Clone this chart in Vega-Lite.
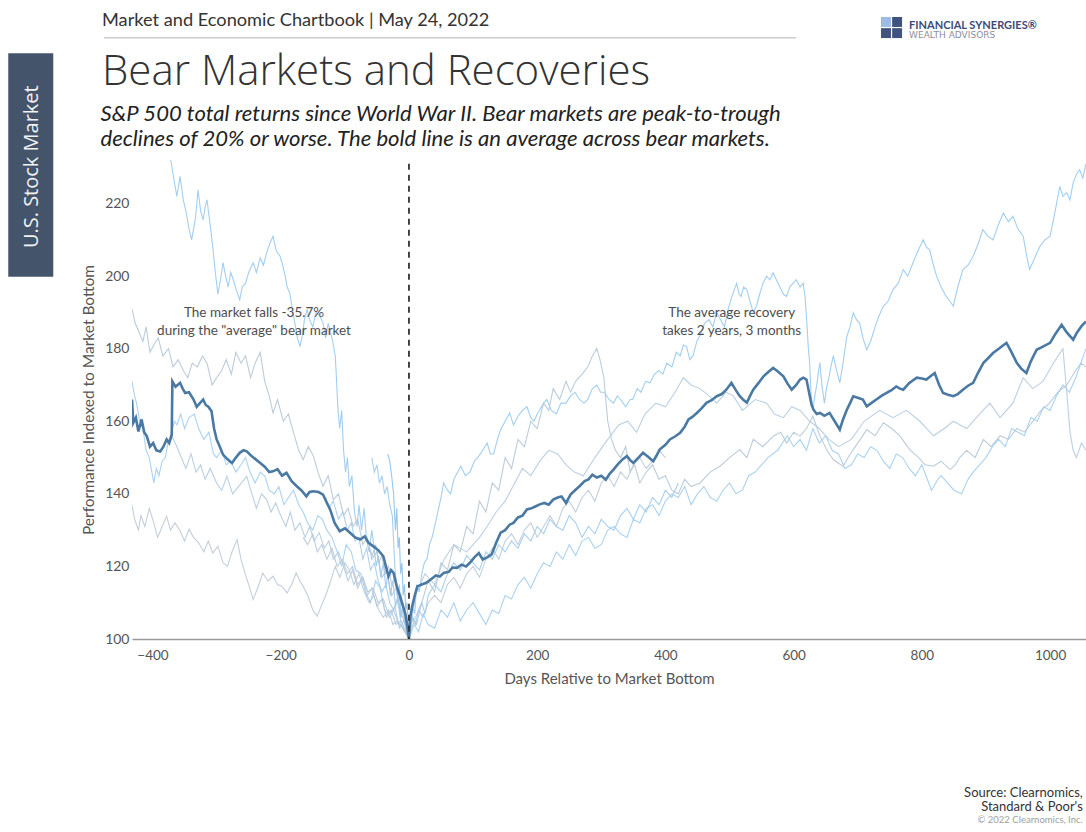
{
"$schema":"https://vega.github.io/schema/vega-lite/v6.json",
"width":954,"height":479,
"autosize":{"type":"none"},
"padding":{"left":132,"top":160,"right":0,"bottom":193},
"background":"white",
"config":{"view":{"stroke":null},"font":"Lato"},
"data":{"values":[{}]},
"datasets":{
"bear":[
{"s":"a","d":-372,"v":232.5},{"s":"a","d":-366,"v":226},{"s":"a","d":-362,"v":222},{"s":"a","d":-357,"v":227.5},{"s":"a","d":-352,"v":221},{"s":"a","d":-348,"v":218},{"s":"a","d":-343,"v":213},{"s":"a","d":-339,"v":210},{"s":"a","d":-333,"v":216},{"s":"a","d":-329,"v":223.8},{"s":"a","d":-325,"v":218},{"s":"a","d":-321,"v":215.5},{"s":"a","d":-318,"v":219},{"s":"a","d":-315,"v":221},{"s":"a","d":-310,"v":214},{"s":"a","d":-306,"v":208},{"s":"a","d":-302,"v":201},{"s":"a","d":-298,"v":195},{"s":"a","d":-294,"v":199},{"s":"a","d":-290,"v":203.7},{"s":"a","d":-286,"v":200},{"s":"a","d":-282,"v":197},{"s":"a","d":-278,"v":201},{"s":"a","d":-274,"v":199},{"s":"a","d":-269,"v":196},{"s":"a","d":-264,"v":193.5},{"s":"a","d":-260,"v":197},{"s":"a","d":-255,"v":198},{"s":"a","d":-250,"v":201},{"s":"a","d":-243,"v":203.7},{"s":"a","d":-238,"v":201},{"s":"a","d":-232,"v":205},{"s":"a","d":-227,"v":203},{"s":"a","d":-222,"v":206.4},{"s":"a","d":-217,"v":209},{"s":"a","d":-212,"v":211},{"s":"a","d":-207,"v":207},{"s":"a","d":-201,"v":205.5},{"s":"a","d":-197,"v":203},{"s":"a","d":-193,"v":200},{"s":"a","d":-190,"v":197},{"s":"a","d":-186,"v":195.4},{"s":"a","d":-182,"v":191},{"s":"a","d":-178,"v":187},{"s":"a","d":-174,"v":183},{"s":"a","d":-170,"v":180.6},{"s":"a","d":-166,"v":184},{"s":"a","d":-163,"v":188},{"s":"a","d":-159,"v":190.8},{"s":"a","d":-155,"v":188},{"s":"a","d":-150,"v":186},{"s":"a","d":-145,"v":190},{"s":"a","d":-139,"v":189},{"s":"a","d":-134,"v":187},{"s":"a","d":-130,"v":183},{"s":"a","d":-126,"v":187},{"s":"a","d":-123,"v":185},{"s":"a","d":-119,"v":182},{"s":"a","d":-115,"v":178},{"s":"a","d":-113,"v":171.5},{"s":"a","d":-111,"v":164},{"s":"a","d":-108,"v":158},{"s":"a","d":-105,"v":163},{"s":"a","d":-102,"v":152},{"s":"a","d":-99,"v":146},{"s":"a","d":-96,"v":150},{"s":"a","d":-93,"v":142},{"s":"a","d":-89,"v":145},{"s":"a","d":-85,"v":135},{"s":"a","d":-81,"v":131},{"s":"a","d":-78,"v":137},{"s":"a","d":-74,"v":130},{"s":"a","d":-70,"v":136},{"s":"a","d":-66,"v":127},{"s":"a","d":-62,"v":124},{"s":"a","d":-58,"v":130},{"s":"a","d":-55,"v":126},{"s":"a","d":-51,"v":120},{"s":"a","d":-48,"v":123},{"s":"a","d":-44,"v":117},{"s":"a","d":-40,"v":121},{"s":"a","d":-36,"v":114},{"s":"a","d":-33,"v":118},{"s":"a","d":-29,"v":112},{"s":"a","d":-25,"v":116},{"s":"a","d":-21,"v":109},{"s":"a","d":-17,"v":112},{"s":"a","d":-13,"v":106},{"s":"a","d":-9,"v":108},{"s":"a","d":-5,"v":104},{"s":"a","d":-2,"v":103},{"s":"a","d":0,"v":100},
{"s":"a","d":3,"v":106},{"s":"a","d":6,"v":109},{"s":"a","d":9,"v":107},{"s":"a","d":12,"v":115},{"s":"a","d":16,"v":113},{"s":"a","d":20,"v":118},{"s":"a","d":24,"v":121},{"s":"a","d":28,"v":122},{"s":"a","d":32,"v":126},{"s":"a","d":36,"v":128},{"s":"a","d":40,"v":131},{"s":"a","d":45,"v":135},{"s":"a","d":50,"v":139},{"s":"a","d":54,"v":143},{"s":"a","d":60,"v":141},{"s":"a","d":65,"v":140},{"s":"a","d":70,"v":144},{"s":"a","d":76,"v":146},{"s":"a","d":81,"v":147.6},{"s":"a","d":88,"v":145},{"s":"a","d":95,"v":146},{"s":"a","d":102,"v":149},{"s":"a","d":109,"v":150.4},{"s":"a","d":115,"v":152},{"s":"a","d":122,"v":154},{"s":"a","d":127,"v":151},{"s":"a","d":132,"v":151},{"s":"a","d":138,"v":155},{"s":"a","d":143,"v":157.7},{"s":"a","d":150,"v":160},{"s":"a","d":157,"v":162.3},{"s":"a","d":163,"v":159},{"s":"a","d":170,"v":161.4},{"s":"a","d":177,"v":163},{"s":"a","d":184,"v":164},{"s":"a","d":190,"v":161},{"s":"a","d":195,"v":160},{"s":"a","d":200,"v":162},{"s":"a","d":204,"v":163.2},{"s":"a","d":210,"v":165},{"s":"a","d":215,"v":166},{"s":"a","d":222,"v":163},{"s":"a","d":230,"v":162},{"s":"a","d":237,"v":165},{"s":"a","d":245,"v":165},{"s":"a","d":252,"v":167},{"s":"a","d":259,"v":168},{"s":"a","d":266,"v":166},{"s":"a","d":273,"v":165},{"s":"a","d":279,"v":166},{"s":"a","d":286,"v":169},{"s":"a","d":293,"v":170},{"s":"a","d":299,"v":168},{"s":"a","d":305,"v":168},{"s":"a","d":312,"v":166},{"s":"a","d":319,"v":165},{"s":"a","d":325,"v":167},{"s":"a","d":330,"v":166},{"s":"a","d":338,"v":164},{"s":"a","d":345,"v":166},{"s":"a","d":349,"v":166},{"s":"a","d":356,"v":169},{"s":"a","d":362,"v":168},{"s":"a","d":369,"v":171},{"s":"a","d":376,"v":170.6},{"s":"a","d":383,"v":173},{"s":"a","d":390,"v":174},{"s":"a","d":396,"v":173},{"s":"a","d":402,"v":176},{"s":"a","d":410,"v":175},{"s":"a","d":417,"v":179},{"s":"a","d":423,"v":178},{"s":"a","d":428,"v":181},{"s":"a","d":433,"v":180.6},{"s":"a","d":438,"v":177},{"s":"a","d":443,"v":178},{"s":"a","d":449,"v":182},{"s":"a","d":455,"v":184},{"s":"a","d":461,"v":187},{"s":"a","d":468,"v":188},{"s":"a","d":474,"v":186},{"s":"a","d":480,"v":190},{"s":"a","d":486,"v":188},{"s":"a","d":492,"v":186},{"s":"a","d":498,"v":191},{"s":"a","d":503,"v":194},{"s":"a","d":507,"v":196},{"s":"a","d":511,"v":198},{"s":"a","d":515,"v":195},{"s":"a","d":518,"v":194.4},{"s":"a","d":522,"v":197},{"s":"a","d":527,"v":196.3},{"s":"a","d":532,"v":193},{"s":"a","d":537,"v":190},{"s":"a","d":542,"v":191.7},{"s":"a","d":547,"v":195},{"s":"a","d":552,"v":198},{"s":"a","d":558,"v":200},{"s":"a","d":563,"v":199},{"s":"a","d":568,"v":200.9},{"s":"a","d":573,"v":199},{"s":"a","d":578,"v":197.2},{"s":"a","d":584,"v":195},{"s":"a","d":589,"v":194.4},{"s":"a","d":594,"v":197},{"s":"a","d":599,"v":198},{"s":"a","d":604,"v":199},{"s":"a","d":610,"v":197},{"s":"a","d":615,"v":198},{"s":"a","d":618,"v":194},{"s":"a","d":621,"v":186},{"s":"a","d":623,"v":180},{"s":"a","d":625,"v":176},{"s":"a","d":627,"v":168},{"s":"a","d":630,"v":163},{"s":"a","d":633,"v":167},{"s":"a","d":636,"v":170},{"s":"a","d":639,"v":174},{"s":"a","d":641,"v":176.2},{"s":"a","d":644,"v":170},{"s":"a","d":648,"v":165},{"s":"a","d":651,"v":169},{"s":"a","d":655,"v":172},{"s":"a","d":658,"v":175},{"s":"a","d":662,"v":178},{"s":"a","d":667,"v":174},{"s":"a","d":672,"v":170.6},{"s":"a","d":677,"v":176},{"s":"a","d":683,"v":183.4},{"s":"a","d":688,"v":186},{"s":"a","d":693,"v":189.9},{"s":"a","d":698,"v":188},{"s":"a","d":703,"v":187},{"s":"a","d":708,"v":183},{"s":"a","d":714,"v":179.7},{"s":"a","d":720,"v":182},{"s":"a","d":727,"v":186},{"s":"a","d":733,"v":189},{"s":"a","d":740,"v":191.7},{"s":"a","d":747,"v":193},{"s":"a","d":755,"v":196.3},{"s":"a","d":763,"v":198},{"s":"a","d":771,"v":201.8},{"s":"a","d":778,"v":200},{"s":"a","d":786,"v":203.6},{"s":"a","d":794,"v":207},{"s":"a","d":802,"v":210},{"s":"a","d":807,"v":208},{"s":"a","d":812,"v":207.3},{"s":"a","d":818,"v":203},{"s":"a","d":823,"v":200},{"s":"a","d":830,"v":197},{"s":"a","d":838,"v":194.4},{"s":"a","d":844,"v":193},{"s":"a","d":849,"v":191.7},{"s":"a","d":856,"v":197},{"s":"a","d":864,"v":201.8},{"s":"a","d":872,"v":203},{"s":"a","d":880,"v":205.5},{"s":"a","d":888,"v":209},{"s":"a","d":895,"v":212.8},{"s":"a","d":903,"v":211},{"s":"a","d":911,"v":210},{"s":"a","d":919,"v":214},{"s":"a","d":927,"v":217.4},{"s":"a","d":935,"v":215},{"s":"a","d":942,"v":216.5},{"s":"a","d":950,"v":213},{"s":"a","d":958,"v":211},{"s":"a","d":963,"v":206},{"s":"a","d":968,"v":201.8},{"s":"a","d":976,"v":205},{"s":"a","d":984,"v":208.2},{"s":"a","d":992,"v":210},{"s":"a","d":1000,"v":211},{"s":"a","d":1008,"v":218},{"s":"a","d":1015,"v":224.7},{"s":"a","d":1020,"v":222},{"s":"a","d":1026,"v":223},{"s":"a","d":1031,"v":221},{"s":"a","d":1036,"v":225.7},{"s":"a","d":1041,"v":228},{"s":"a","d":1046,"v":229.3},{"s":"a","d":1051,"v":227},{"s":"a","d":1056,"v":231},
{"s":"b","d":-432,"v":191},{"s":"b","d":-427,"v":187},{"s":"b","d":-422,"v":185},{"s":"b","d":-415,"v":182},{"s":"b","d":-410,"v":186},{"s":"b","d":-404,"v":179},{"s":"b","d":-398,"v":181},{"s":"b","d":-391,"v":183},{"s":"b","d":-384,"v":178},{"s":"b","d":-375,"v":180},{"s":"b","d":-368,"v":175},{"s":"b","d":-360,"v":177},{"s":"b","d":-352,"v":174},{"s":"b","d":-345,"v":172},{"s":"b","d":-338,"v":176},{"s":"b","d":-330,"v":175},{"s":"b","d":-322,"v":178},{"s":"b","d":-315,"v":176},{"s":"b","d":-307,"v":170},{"s":"b","d":-300,"v":172},{"s":"b","d":-292,"v":174},{"s":"b","d":-285,"v":177},{"s":"b","d":-277,"v":173},{"s":"b","d":-270,"v":179},{"s":"b","d":-262,"v":176},{"s":"b","d":-255,"v":178},{"s":"b","d":-247,"v":172},{"s":"b","d":-240,"v":176},{"s":"b","d":-232,"v":179},{"s":"b","d":-225,"v":171},{"s":"b","d":-218,"v":167},{"s":"b","d":-212,"v":162.3},{"s":"b","d":-205,"v":166},{"s":"b","d":-196,"v":160},{"s":"b","d":-188,"v":162},{"s":"b","d":-180,"v":156.8},{"s":"b","d":-172,"v":152},{"s":"b","d":-165,"v":149.4},{"s":"b","d":-157,"v":153},{"s":"b","d":-149,"v":150.4},{"s":"b","d":-142,"v":146},{"s":"b","d":-134,"v":142.1},{"s":"b","d":-126,"v":145},{"s":"b","d":-118,"v":138.4},{"s":"b","d":-110,"v":140},{"s":"b","d":-102,"v":134},{"s":"b","d":-95,"v":136},{"s":"b","d":-87,"v":131},{"s":"b","d":-80,"v":133},{"s":"b","d":-72,"v":126},{"s":"b","d":-65,"v":128},{"s":"b","d":-58,"v":122},{"s":"b","d":-50,"v":124},{"s":"b","d":-42,"v":117},{"s":"b","d":-35,"v":119},{"s":"b","d":-27,"v":112},{"s":"b","d":-20,"v":114},{"s":"b","d":-12,"v":107},{"s":"b","d":-6,"v":104},{"s":"b","d":0,"v":100},
{"s":"b","d":6,"v":106},{"s":"b","d":12,"v":104},{"s":"b","d":20,"v":110},{"s":"b","d":30,"v":116},{"s":"b","d":40,"v":113},{"s":"b","d":50,"v":121},{"s":"b","d":60,"v":119},{"s":"b","d":70,"v":126},{"s":"b","d":80,"v":124},{"s":"b","d":90,"v":131},{"s":"b","d":100,"v":129},{"s":"b","d":110,"v":138},{"s":"b","d":120,"v":135},{"s":"b","d":130,"v":143},{"s":"b","d":140,"v":141},{"s":"b","d":150,"v":150},{"s":"b","d":160,"v":147},{"s":"b","d":170,"v":155},{"s":"b","d":180,"v":153},{"s":"b","d":190,"v":160},{"s":"b","d":200,"v":158},{"s":"b","d":210,"v":165},{"s":"b","d":218,"v":163},{"s":"b","d":225,"v":169},{"s":"b","d":235,"v":166},{"s":"b","d":245,"v":171},{"s":"b","d":252,"v":168},{"s":"b","d":260,"v":171},{"s":"b","d":270,"v":173},{"s":"b","d":279,"v":175},{"s":"b","d":286,"v":178},{"s":"b","d":293,"v":180},{"s":"b","d":298,"v":177},{"s":"b","d":304,"v":172},{"s":"b","d":310,"v":160},{"s":"b","d":316,"v":155},{"s":"b","d":322,"v":152},{"s":"b","d":330,"v":150},{"s":"b","d":338,"v":153},{"s":"b","d":345,"v":146},{"s":"b","d":352,"v":148},{"s":"b","d":360,"v":143},{"s":"b","d":370,"v":146},{"s":"b","d":380,"v":148},{"s":"b","d":390,"v":144},{"s":"b","d":400,"v":145},{"s":"b","d":410,"v":141},{"s":"b","d":420,"v":140},{"s":"b","d":430,"v":144},{"s":"b","d":440,"v":142},{"s":"b","d":454,"v":143},{"s":"b","d":470,"v":146},{"s":"b","d":485,"v":147.6},{"s":"b","d":500,"v":150},{"s":"b","d":516,"v":152.2},{"s":"b","d":527,"v":150},{"s":"b","d":537,"v":155},{"s":"b","d":552,"v":153},{"s":"b","d":568,"v":155.9},{"s":"b","d":580,"v":157},{"s":"b","d":589,"v":154},{"s":"b","d":600,"v":157},{"s":"b","d":610,"v":155.9},{"s":"b","d":620,"v":158},{"s":"b","d":630,"v":161.4},{"s":"b","d":641,"v":155.9},{"s":"b","d":652,"v":152},{"s":"b","d":662,"v":149.4},{"s":"b","d":677,"v":147.6},{"s":"b","d":685,"v":150},{"s":"b","d":693,"v":152.2},{"s":"b","d":704,"v":155},{"s":"b","d":714,"v":157.7},{"s":"b","d":727,"v":156},{"s":"b","d":740,"v":159.6},{"s":"b","d":753,"v":158},{"s":"b","d":766,"v":155.9},{"s":"b","d":781,"v":152.2},{"s":"b","d":795,"v":150},{"s":"b","d":805,"v":148},{"s":"b","d":818,"v":147.6},{"s":"b","d":830,"v":149},{"s":"b","d":844,"v":146.7},{"s":"b","d":852,"v":148},{"s":"b","d":859,"v":150},{"s":"b","d":870,"v":152},{"s":"b","d":883,"v":150},{"s":"b","d":896,"v":155},{"s":"b","d":908,"v":153},{"s":"b","d":922,"v":156},{"s":"b","d":935,"v":155},{"s":"b","d":948,"v":158},{"s":"b","d":960,"v":157},{"s":"b","d":973,"v":160},{"s":"b","d":986,"v":163},{"s":"b","d":999,"v":165},{"s":"b","d":1012,"v":168},{"s":"b","d":1026,"v":170},{"s":"b","d":1040,"v":174},{"s":"b","d":1048,"v":176},{"s":"b","d":1056,"v":175},
{"s":"c","d":-432,"v":171},{"s":"c","d":-428,"v":167},{"s":"c","d":-425,"v":165},{"s":"c","d":-420,"v":160},{"s":"c","d":-415,"v":158},{"s":"c","d":-410,"v":152},{"s":"c","d":-405,"v":150},{"s":"c","d":-398,"v":143},{"s":"c","d":-394,"v":147},{"s":"c","d":-390,"v":145},{"s":"c","d":-385,"v":149},{"s":"c","d":-380,"v":150},{"s":"c","d":-376,"v":154},{"s":"c","d":-372,"v":156},{"s":"c","d":-366,"v":160},{"s":"c","d":-362,"v":159},{"s":"c","d":-356,"v":162},{"s":"c","d":-350,"v":158},{"s":"c","d":-343,"v":161},{"s":"c","d":-335,"v":162},{"s":"c","d":-328,"v":158},{"s":"c","d":-320,"v":155},{"s":"c","d":-312,"v":157},{"s":"c","d":-305,"v":151},{"s":"c","d":-300,"v":150},{"s":"c","d":-292,"v":152},{"s":"c","d":-285,"v":148},{"s":"c","d":-278,"v":149},{"s":"c","d":-270,"v":146},{"s":"c","d":-262,"v":148},{"s":"c","d":-255,"v":150},{"s":"c","d":-248,"v":146},{"s":"c","d":-240,"v":143},{"s":"c","d":-232,"v":146},{"s":"c","d":-225,"v":145},{"s":"c","d":-218,"v":141},{"s":"c","d":-210,"v":140},{"s":"c","d":-203,"v":142},{"s":"c","d":-195,"v":137},{"s":"c","d":-188,"v":139},{"s":"c","d":-180,"v":141},{"s":"c","d":-172,"v":137},{"s":"c","d":-165,"v":135},{"s":"c","d":-158,"v":132},{"s":"c","d":-150,"v":130},{"s":"c","d":-142,"v":134},{"s":"c","d":-135,"v":133},{"s":"c","d":-128,"v":130},{"s":"c","d":-120,"v":128},{"s":"c","d":-112,"v":124},{"s":"c","d":-105,"v":120},{"s":"c","d":-98,"v":126},{"s":"c","d":-90,"v":124},{"s":"c","d":-83,"v":119},{"s":"c","d":-75,"v":118},{"s":"c","d":-68,"v":113},{"s":"c","d":-60,"v":110},{"s":"c","d":-52,"v":116},{"s":"c","d":-45,"v":114},{"s":"c","d":-38,"v":108},{"s":"c","d":-30,"v":106},{"s":"c","d":-22,"v":109},{"s":"c","d":-15,"v":103},{"s":"c","d":-8,"v":105},{"s":"c","d":0,"v":100},
{"s":"c","d":8,"v":104},{"s":"c","d":15,"v":102},{"s":"c","d":22,"v":107},{"s":"c","d":30,"v":104},{"s":"c","d":40,"v":103},{"s":"c","d":50,"v":108},{"s":"c","d":60,"v":106},{"s":"c","d":70,"v":110},{"s":"c","d":80,"v":105},{"s":"c","d":90,"v":108},{"s":"c","d":100,"v":110},{"s":"c","d":110,"v":107},{"s":"c","d":120,"v":104},{"s":"c","d":130,"v":108},{"s":"c","d":140,"v":107},{"s":"c","d":150,"v":112},{"s":"c","d":160,"v":111},{"s":"c","d":170,"v":115},{"s":"c","d":180,"v":117},{"s":"c","d":190,"v":114},{"s":"c","d":200,"v":118},{"s":"c","d":210,"v":121},{"s":"c","d":220,"v":120},{"s":"c","d":230,"v":124},{"s":"c","d":240,"v":122},{"s":"c","d":250,"v":126},{"s":"c","d":260,"v":123},{"s":"c","d":270,"v":127},{"s":"c","d":280,"v":128},{"s":"c","d":290,"v":125},{"s":"c","d":300,"v":126},{"s":"c","d":310,"v":130},{"s":"c","d":320,"v":131},{"s":"c","d":330,"v":129},{"s":"c","d":340,"v":128},{"s":"c","d":350,"v":133},{"s":"c","d":360,"v":132},{"s":"c","d":370,"v":136},{"s":"c","d":380,"v":137},{"s":"c","d":390,"v":134},{"s":"c","d":400,"v":138},{"s":"c","d":410,"v":140},{"s":"c","d":420,"v":139},{"s":"c","d":430,"v":142},{"s":"c","d":440,"v":137},{"s":"c","d":450,"v":140},{"s":"c","d":460,"v":142},{"s":"c","d":470,"v":139},{"s":"c","d":480,"v":138},{"s":"c","d":490,"v":141},{"s":"c","d":500,"v":143},{"s":"c","d":510,"v":140},{"s":"c","d":520,"v":141},{"s":"c","d":530,"v":145},{"s":"c","d":540,"v":146},{"s":"c","d":550,"v":148},{"s":"c","d":560,"v":150},{"s":"c","d":575,"v":152},{"s":"c","d":590,"v":156},{"s":"c","d":600,"v":153},{"s":"c","d":610,"v":155},{"s":"c","d":620,"v":152},{"s":"c","d":630,"v":158},{"s":"c","d":640,"v":154},{"s":"c","d":650,"v":156},{"s":"c","d":660,"v":152},{"s":"c","d":670,"v":151},{"s":"c","d":680,"v":147},{"s":"c","d":690,"v":148},{"s":"c","d":700,"v":151},{"s":"c","d":710,"v":150},{"s":"c","d":720,"v":153},{"s":"c","d":730,"v":152},{"s":"c","d":740,"v":149},{"s":"c","d":750,"v":147},{"s":"c","d":760,"v":151},{"s":"c","d":770,"v":150},{"s":"c","d":780,"v":147},{"s":"c","d":790,"v":145},{"s":"c","d":800,"v":148},{"s":"c","d":815,"v":141},{"s":"c","d":825,"v":144},{"s":"c","d":830,"v":145},{"s":"c","d":840,"v":143},{"s":"c","d":850,"v":141},{"s":"c","d":862,"v":140},{"s":"c","d":872,"v":144},{"s":"c","d":880,"v":146},{"s":"c","d":890,"v":148},{"s":"c","d":900,"v":150},{"s":"c","d":910,"v":153},{"s":"c","d":920,"v":155},{"s":"c","d":930,"v":153},{"s":"c","d":940,"v":158},{"s":"c","d":950,"v":157},{"s":"c","d":960,"v":156},{"s":"c","d":970,"v":161},{"s":"c","d":980,"v":160},{"s":"c","d":990,"v":164},{"s":"c","d":1000,"v":163},{"s":"c","d":1010,"v":167},{"s":"c","d":1020,"v":170},{"s":"c","d":1030,"v":168},{"s":"c","d":1040,"v":172},{"s":"c","d":1048,"v":176},{"s":"c","d":1056,"v":180},
{"s":"d","d":-370,"v":156},{"s":"d","d":-362,"v":153},{"s":"d","d":-355,"v":150},{"s":"d","d":-348,"v":147},{"s":"d","d":-340,"v":151},{"s":"d","d":-332,"v":146},{"s":"d","d":-325,"v":148},{"s":"d","d":-318,"v":144},{"s":"d","d":-310,"v":147},{"s":"d","d":-300,"v":143},{"s":"d","d":-292,"v":141},{"s":"d","d":-284,"v":144.8},{"s":"d","d":-275,"v":140},{"s":"d","d":-266,"v":142},{"s":"d","d":-253,"v":144.8},{"s":"d","d":-245,"v":140},{"s":"d","d":-238,"v":136},{"s":"d","d":-230,"v":140},{"s":"d","d":-222,"v":138.4},{"s":"d","d":-215,"v":135},{"s":"d","d":-208,"v":137.5},{"s":"d","d":-200,"v":134},{"s":"d","d":-192,"v":131},{"s":"d","d":-185,"v":135},{"s":"d","d":-178,"v":130},{"s":"d","d":-170,"v":132},{"s":"d","d":-162,"v":128},{"s":"d","d":-155,"v":131},{"s":"d","d":-148,"v":127},{"s":"d","d":-140,"v":129.3},{"s":"d","d":-132,"v":125},{"s":"d","d":-125,"v":127},{"s":"d","d":-118,"v":122},{"s":"d","d":-110,"v":124},{"s":"d","d":-102,"v":120},{"s":"d","d":-95,"v":116},{"s":"d","d":-88,"v":119},{"s":"d","d":-80,"v":114},{"s":"d","d":-72,"v":117},{"s":"d","d":-65,"v":112},{"s":"d","d":-58,"v":114},{"s":"d","d":-50,"v":109},{"s":"d","d":-42,"v":111},{"s":"d","d":-35,"v":106},{"s":"d","d":-28,"v":108},{"s":"d","d":-20,"v":104},{"s":"d","d":-12,"v":105},{"s":"d","d":-5,"v":102},{"s":"d","d":0,"v":100},
{"s":"d","d":10,"v":112},{"s":"d","d":25,"v":118},{"s":"d","d":40,"v":115},{"s":"d","d":55,"v":122},{"s":"d","d":70,"v":126},{"s":"d","d":90,"v":124},{"s":"d","d":110,"v":128},{"s":"d","d":122,"v":131},{"s":"d","d":136,"v":135},{"s":"d","d":150,"v":138},{"s":"d","d":165,"v":143},{"s":"d","d":177,"v":147},{"s":"d","d":190,"v":145},{"s":"d","d":204,"v":149},{"s":"d","d":218,"v":152},{"s":"d","d":232,"v":151},{"s":"d","d":245,"v":148},{"s":"d","d":258,"v":146},{"s":"d","d":272,"v":145},{"s":"d","d":290,"v":150},{"s":"d","d":310,"v":155},{"s":"d","d":327,"v":159},{"s":"d","d":341,"v":160},{"s":"d","d":355,"v":157},{"s":"d","d":368,"v":162},{"s":"d","d":385,"v":165},{"s":"d","d":400,"v":164},{"s":"d","d":415,"v":168},{"s":"d","d":428,"v":172},{"s":"d","d":440,"v":170},{"s":"d","d":454,"v":169},{"s":"d","d":468,"v":167},{"s":"d","d":480,"v":165},{"s":"d","d":495,"v":168},{"s":"d","d":506,"v":167},{"s":"d","d":520,"v":163},{"s":"d","d":540,"v":166},{"s":"d","d":558,"v":165},{"s":"d","d":570,"v":162},{"s":"d","d":584,"v":161},{"s":"d","d":597,"v":164},{"s":"d","d":610,"v":163},{"s":"d","d":625,"v":160},{"s":"d","d":640,"v":158},{"s":"d","d":655,"v":155},{"s":"d","d":670,"v":153},{"s":"d","d":690,"v":155},{"s":"d","d":710,"v":160},{"s":"d","d":734,"v":163},{"s":"d","d":755,"v":161},{"s":"d","d":776,"v":163},{"s":"d","d":797,"v":160},{"s":"d","d":818,"v":156},{"s":"d","d":835,"v":158},{"s":"d","d":849,"v":160},{"s":"d","d":870,"v":158},{"s":"d","d":890,"v":162},{"s":"d","d":906,"v":165},{"s":"d","d":922,"v":161},{"s":"d","d":942,"v":165},{"s":"d","d":958,"v":172},{"s":"d","d":973,"v":169},{"s":"d","d":989,"v":171},{"s":"d","d":1005,"v":176},{"s":"d","d":1020,"v":180},{"s":"d","d":1026,"v":168},{"s":"d","d":1031,"v":157},{"s":"d","d":1036,"v":152},{"s":"d","d":1041,"v":150},{"s":"d","d":1049,"v":154},{"s":"d","d":1056,"v":152},
{"s":"e","d":-432,"v":137},{"s":"e","d":-428,"v":133},{"s":"e","d":-422,"v":130},{"s":"e","d":-418,"v":134},{"s":"e","d":-412,"v":131},{"s":"e","d":-405,"v":136},{"s":"e","d":-398,"v":132},{"s":"e","d":-392,"v":128},{"s":"e","d":-385,"v":131},{"s":"e","d":-378,"v":133.8},{"s":"e","d":-372,"v":130},{"s":"e","d":-365,"v":132},{"s":"e","d":-358,"v":130.2},{"s":"e","d":-350,"v":127},{"s":"e","d":-343,"v":130.2},{"s":"e","d":-336,"v":128},{"s":"e","d":-328,"v":126.5},{"s":"e","d":-320,"v":124},{"s":"e","d":-313,"v":127},{"s":"e","d":-306,"v":123.7},{"s":"e","d":-298,"v":125.6},{"s":"e","d":-290,"v":121},{"s":"e","d":-283,"v":120},{"s":"e","d":-276,"v":124},{"s":"e","d":-268,"v":127.4},{"s":"e","d":-262,"v":122},{"s":"e","d":-256,"v":118.2},{"s":"e","d":-250,"v":115},{"s":"e","d":-243,"v":110.9},{"s":"e","d":-236,"v":114},{"s":"e","d":-228,"v":118.2},{"s":"e","d":-220,"v":116},{"s":"e","d":-212,"v":117.3},{"s":"e","d":-205,"v":115},{"s":"e","d":-198,"v":114.5},{"s":"e","d":-190,"v":112.7},{"s":"e","d":-183,"v":115},{"s":"e","d":-176,"v":118.2},{"s":"e","d":-170,"v":116},{"s":"e","d":-165,"v":114.5},{"s":"e","d":-158,"v":112},{"s":"e","d":-150,"v":108},{"s":"e","d":-143,"v":106.3},{"s":"e","d":-137,"v":109},{"s":"e","d":-130,"v":112},{"s":"e","d":-122,"v":116},{"s":"e","d":-115,"v":120},{"s":"e","d":-108,"v":117},{"s":"e","d":-100,"v":121},{"s":"e","d":-93,"v":119},{"s":"e","d":-86,"v":115},{"s":"e","d":-78,"v":118},{"s":"e","d":-70,"v":113},{"s":"e","d":-62,"v":110},{"s":"e","d":-55,"v":112},{"s":"e","d":-47,"v":108},{"s":"e","d":-40,"v":106},{"s":"e","d":-32,"v":108},{"s":"e","d":-25,"v":104},{"s":"e","d":-18,"v":105},{"s":"e","d":-10,"v":103},{"s":"e","d":0,"v":100},
{"s":"e","d":8,"v":105},{"s":"e","d":15,"v":108},{"s":"e","d":22,"v":106},{"s":"e","d":30,"v":110},{"s":"e","d":40,"v":112},{"s":"e","d":50,"v":110},{"s":"e","d":60,"v":115},{"s":"e","d":70,"v":117},{"s":"e","d":80,"v":114},{"s":"e","d":90,"v":118},{"s":"e","d":100,"v":120},{"s":"e","d":110,"v":117},{"s":"e","d":120,"v":122},{"s":"e","d":130,"v":125},{"s":"e","d":140,"v":122},{"s":"e","d":150,"v":127},{"s":"e","d":160,"v":129},{"s":"e","d":170,"v":126},{"s":"e","d":180,"v":130},{"s":"e","d":190,"v":132},{"s":"e","d":200,"v":128},{"s":"e","d":210,"v":131},{"s":"e","d":220,"v":134},{"s":"e","d":230,"v":131},{"s":"e","d":240,"v":136},{"s":"e","d":250,"v":138},{"s":"e","d":260,"v":135},{"s":"e","d":270,"v":139},{"s":"e","d":280,"v":141},{"s":"e","d":290,"v":138},{"s":"e","d":300,"v":143},{"s":"e","d":310,"v":145},{"s":"e","d":320,"v":142},{"s":"e","d":330,"v":146},{"s":"e","d":340,"v":144},{"s":"e","d":350,"v":148},{"s":"e","d":360,"v":150},{"s":"e","d":370,"v":147},{"s":"e","d":380,"v":149},{"s":"e","d":390,"v":152},{"s":"e","d":400,"v":150},
{"s":"f","d":-58,"v":150},{"s":"f","d":-54,"v":146},{"s":"f","d":-50,"v":148},{"s":"f","d":-46,"v":143},{"s":"f","d":-42,"v":145},{"s":"f","d":-38,"v":140},{"s":"f","d":-34,"v":142},{"s":"f","d":-30,"v":137},{"s":"f","d":-26,"v":134},{"s":"f","d":-22,"v":120},{"s":"f","d":-18,"v":112},{"s":"f","d":-15,"v":115},{"s":"f","d":-12,"v":106},{"s":"f","d":-9,"v":110},{"s":"f","d":-6,"v":104},{"s":"f","d":-3,"v":106},{"s":"f","d":0,"v":100},
{"s":"f","d":5,"v":106},{"s":"f","d":10,"v":104},{"s":"f","d":15,"v":108},{"s":"f","d":20,"v":110},{"s":"f","d":25,"v":107},{"s":"f","d":30,"v":112},{"s":"f","d":40,"v":115},{"s":"f","d":50,"v":113},{"s":"f","d":60,"v":118},{"s":"f","d":70,"v":121},{"s":"f","d":80,"v":119},{"s":"f","d":90,"v":123},{"s":"f","d":100,"v":121},{"s":"f","d":110,"v":119},{"s":"f","d":120,"v":124},{"s":"f","d":130,"v":122},{"s":"f","d":140,"v":126},{"s":"f","d":150,"v":124},{"s":"f","d":160,"v":127},{"s":"f","d":170,"v":125},{"s":"f","d":180,"v":129},{"s":"f","d":190,"v":127},{"s":"f","d":200,"v":131},{"s":"f","d":210,"v":129},{"s":"f","d":220,"v":133},{"s":"f","d":230,"v":131},{"s":"f","d":240,"v":130},{"s":"f","d":250,"v":134},{"s":"f","d":260,"v":132},{"s":"f","d":270,"v":128},{"s":"f","d":280,"v":131},{"s":"f","d":290,"v":129},{"s":"f","d":300,"v":133},{"s":"f","d":310,"v":131},{"s":"f","d":320,"v":130},{"s":"f","d":330,"v":134},{"s":"f","d":340,"v":136},{"s":"f","d":350,"v":133},{"s":"f","d":360,"v":137},{"s":"f","d":370,"v":135},{"s":"f","d":380,"v":139},{"s":"f","d":390,"v":137},{"s":"f","d":400,"v":141},{"s":"f","d":410,"v":139},{"s":"f","d":420,"v":143},
{"s":"g","d":-33,"v":151},{"s":"g","d":-30,"v":149},{"s":"g","d":-27,"v":145},{"s":"g","d":-24,"v":140},{"s":"g","d":-21,"v":130},{"s":"g","d":-19,"v":136},{"s":"g","d":-17,"v":125},{"s":"g","d":-15,"v":128},{"s":"g","d":-13,"v":118},{"s":"g","d":-11,"v":121},{"s":"g","d":-9,"v":112},{"s":"g","d":-7,"v":115},{"s":"g","d":-5,"v":108},{"s":"g","d":-3,"v":110},{"s":"g","d":-1,"v":104},{"s":"g","d":0,"v":100},
{"s":"h","d":-62,"v":125},{"s":"h","d":-57,"v":123},{"s":"h","d":-52,"v":126},{"s":"h","d":-47,"v":121},{"s":"h","d":-42,"v":123},{"s":"h","d":-37,"v":118},{"s":"h","d":-32,"v":120},{"s":"h","d":-27,"v":115},{"s":"h","d":-22,"v":117},{"s":"h","d":-17,"v":110},{"s":"h","d":-12,"v":112},{"s":"h","d":-7,"v":105},{"s":"h","d":-3,"v":103},{"s":"h","d":0,"v":100},
{"s":"i","d":-130,"v":139},{"s":"i","d":-125,"v":136},{"s":"i","d":-118,"v":138},{"s":"i","d":-110,"v":133},{"s":"i","d":-103,"v":135},{"s":"i","d":-96,"v":130},{"s":"i","d":-90,"v":132},{"s":"i","d":-84,"v":127},{"s":"i","d":-78,"v":128},{"s":"i","d":-72,"v":122},{"s":"i","d":-66,"v":125},{"s":"i","d":-60,"v":119},{"s":"i","d":-54,"v":121},{"s":"i","d":-48,"v":116},{"s":"i","d":-42,"v":113},{"s":"i","d":-36,"v":115},{"s":"i","d":-30,"v":110},{"s":"i","d":-24,"v":108},{"s":"i","d":-18,"v":111},{"s":"i","d":-12,"v":104},{"s":"i","d":-6,"v":102},{"s":"i","d":0,"v":100},
{"s":"j","d":-165,"v":128},{"s":"j","d":-158,"v":126},{"s":"j","d":-150,"v":129},{"s":"j","d":-143,"v":124},{"s":"j","d":-136,"v":126},{"s":"j","d":-128,"v":122},{"s":"j","d":-120,"v":125},{"s":"j","d":-112,"v":120},{"s":"j","d":-104,"v":122},{"s":"j","d":-96,"v":118},{"s":"j","d":-88,"v":120},{"s":"j","d":-80,"v":115},{"s":"j","d":-72,"v":117},{"s":"j","d":-64,"v":113},{"s":"j","d":-56,"v":114},{"s":"j","d":-48,"v":110},{"s":"j","d":-40,"v":111},{"s":"j","d":-32,"v":107},{"s":"j","d":-24,"v":108},{"s":"j","d":-16,"v":104},{"s":"j","d":-8,"v":103},{"s":"j","d":0,"v":100}
],
"avg":[
{"d":-432,"v":166},{"d":-430,"v":159.6},{"d":-426,"v":161},{"d":-422,"v":157.2},{"d":-417,"v":160.5},{"d":-413,"v":157},{"d":-409,"v":155.9},{"d":-404,"v":153},{"d":-399,"v":154},{"d":-394,"v":152},{"d":-388,"v":151.7},{"d":-383,"v":153},{"d":-378,"v":155},{"d":-374,"v":154},{"d":-370,"v":156.3},{"d":-369,"v":171},{"d":-364,"v":169.5},{"d":-357,"v":170.6},{"d":-353,"v":169},{"d":-349,"v":167.8},{"d":-343,"v":168},{"d":-336,"v":166},{"d":-331,"v":164},{"d":-326,"v":165},{"d":-321,"v":166},{"d":-317,"v":164.5},{"d":-313,"v":164},{"d":-308,"v":162.8},{"d":-304,"v":158},{"d":-300,"v":155},{"d":-295,"v":153},{"d":-290,"v":150.8},{"d":-283,"v":149.5},{"d":-276,"v":148.5},{"d":-270,"v":150},{"d":-264,"v":151.3},{"d":-258,"v":152},{"d":-253,"v":151.7},{"d":-246,"v":150.5},{"d":-239,"v":149.5},{"d":-232,"v":148.5},{"d":-225,"v":147.5},{"d":-218,"v":146},{"d":-212,"v":146.2},{"d":-205,"v":146.8},{"d":-198,"v":145},{"d":-191,"v":145.8},{"d":-183,"v":143.5},{"d":-175,"v":142.1},{"d":-168,"v":141},{"d":-160,"v":139.3},{"d":-155,"v":140.5},{"d":-149,"v":140.7},{"d":-141,"v":140.5},{"d":-134,"v":139.8},{"d":-128,"v":137.5},{"d":-123,"v":135.7},{"d":-116,"v":132},{"d":-108,"v":129.7},{"d":-100,"v":130.5},{"d":-92,"v":129.3},{"d":-84,"v":128},{"d":-76,"v":127.4},{"d":-69,"v":128.3},{"d":-63,"v":126.5},{"d":-56,"v":125.6},{"d":-48,"v":124.5},{"d":-40,"v":122.8},{"d":-36,"v":120},{"d":-32,"v":117.3},{"d":-28,"v":119},{"d":-24,"v":118.2},{"d":-19,"v":114.5},{"d":-14,"v":111.8},{"d":-10,"v":109.5},{"d":-6,"v":107.2},{"d":-3,"v":104},{"d":0,"v":100},
{"d":2,"v":106},{"d":5,"v":109},{"d":9,"v":112},{"d":13,"v":114.5},{"d":20,"v":115},{"d":27,"v":115.5},{"d":34,"v":116.4},{"d":42,"v":117.5},{"d":48,"v":117.2},{"d":54,"v":118.2},{"d":62,"v":118.5},{"d":68,"v":119.7},{"d":75,"v":119.6},{"d":82,"v":120.5},{"d":89,"v":120},{"d":95,"v":121},{"d":102,"v":122.5},{"d":109,"v":123.7},{"d":115,"v":121.9},{"d":122,"v":122.5},{"d":129,"v":123.3},{"d":136,"v":126.5},{"d":143,"v":129.3},{"d":150,"v":130},{"d":157,"v":131.5},{"d":163,"v":132},{"d":170,"v":133.5},{"d":177,"v":134},{"d":184,"v":135.7},{"d":191,"v":136},{"d":197,"v":136.5},{"d":204,"v":137.1},{"d":211,"v":137.5},{"d":218,"v":137},{"d":225,"v":138.4},{"d":232,"v":139},{"d":238,"v":139.3},{"d":245,"v":137.5},{"d":252,"v":139.8},{"d":259,"v":141},{"d":266,"v":142.1},{"d":274,"v":143.5},{"d":280,"v":144},{"d":286,"v":145.3},{"d":293,"v":144.5},{"d":300,"v":145},{"d":307,"v":143.9},{"d":313,"v":145.5},{"d":319,"v":146.7},{"d":325,"v":148},{"d":333,"v":149.5},{"d":340,"v":150.4},{"d":345,"v":149.3},{"d":350,"v":148.5},{"d":358,"v":150},{"d":365,"v":151.3},{"d":373,"v":150.2},{"d":381,"v":149},{"d":386,"v":150.5},{"d":391,"v":152.2},{"d":400,"v":153.5},{"d":407,"v":155},{"d":415,"v":155.8},{"d":423,"v":156.8},{"d":430,"v":158.5},{"d":436,"v":160.5},{"d":442,"v":161.2},{"d":449,"v":162.3},{"d":456,"v":163.5},{"d":464,"v":165.1},{"d":472,"v":165.8},{"d":480,"v":166.9},{"d":488,"v":167.5},{"d":495,"v":168.7},{"d":503,"v":170.6},{"d":510,"v":168.5},{"d":516,"v":166.9},{"d":521,"v":166},{"d":527,"v":165.1},{"d":532,"v":167},{"d":537,"v":168.7},{"d":545,"v":170.5},{"d":553,"v":172.4},{"d":560,"v":173.5},{"d":568,"v":174.7},{"d":575,"v":173.8},{"d":584,"v":172.4},{"d":590,"v":170.5},{"d":597,"v":168.7},{"d":604,"v":170},{"d":610,"v":171.5},{"d":615,"v":172},{"d":620,"v":171.5},{"d":624,"v":168},{"d":628,"v":164.5},{"d":631,"v":163.2},{"d":636,"v":162},{"d":641,"v":162.3},{"d":648,"v":161.5},{"d":656,"v":162.3},{"d":664,"v":160},{"d":672,"v":157.7},{"d":677,"v":160.5},{"d":683,"v":163.2},{"d":688,"v":165},{"d":693,"v":166.9},{"d":700,"v":166.5},{"d":708,"v":166},{"d":714,"v":164.1},{"d":721,"v":165},{"d":729,"v":166},{"d":737,"v":167},{"d":745,"v":167.8},{"d":752,"v":168.5},{"d":760,"v":169.6},{"d":766,"v":169},{"d":771,"v":168.7},{"d":780,"v":170.5},{"d":792,"v":172},{"d":800,"v":171.8},{"d":807,"v":171.5},{"d":814,"v":172.5},{"d":820,"v":173.3},{"d":827,"v":170},{"d":833,"v":167.8},{"d":841,"v":167.3},{"d":849,"v":166.9},{"d":856,"v":167.5},{"d":864,"v":168.7},{"d":872,"v":169.8},{"d":880,"v":170.6},{"d":888,"v":173.5},{"d":896,"v":176.1},{"d":904,"v":177.5},{"d":911,"v":178.8},{"d":920,"v":180},{"d":926,"v":180.8},{"d":932,"v":181.6},{"d":940,"v":179},{"d":948,"v":176.1},{"d":955,"v":174.5},{"d":963,"v":173.3},{"d":970,"v":176.5},{"d":979,"v":179.7},{"d":988,"v":180.5},{"d":1000,"v":181.6},{"d":1008,"v":184},{"d":1018,"v":186.6},{"d":1026,"v":184.5},{"d":1036,"v":182.5},{"d":1042,"v":184.5},{"d":1049,"v":186.2},{"d":1056,"v":187.5}
]
},
"layer":[
{"data":{"name":"bear"},
 "mark":{"type":"line","strokeWidth":1.1,"opacity":0.9,"clip":true},
 "encoding":{
  "x":{"field":"d","type":"quantitative","scale":{"domain":[-432,1056],"nice":false,"zero":false},
   "axis":{"values":[-400,-200,0,200,400,600,800,1000],"format":"d","ticks":false,"grid":false,"domainColor":"#9a9a9a","domainWidth":1.5,"labelFont":"Lato","labelFontSize":13.5,"labelColor":"#555555","labelPadding":9,"title":"Days Relative to Market Bottom","titleFont":"Lato","titleFontSize":15,"titleFontWeight":"normal","titleColor":"#555555","titlePadding":10}},
  "y":{"field":"v","type":"quantitative","scale":{"domain":[100,232],"nice":false,"zero":false},
   "axis":{"values":[100,120,140,160,180,200,220],"domain":false,"ticks":false,"grid":false,"labelFont":"Lato","labelFontSize":14,"labelColor":"#555555","labelPadding":3,"title":"Performance Indexed to Market Bottom","titleFont":"Lato","titleFontSize":15.5,"titleFontWeight":"normal","titleColor":"#555555","titlePadding":8}},
  "color":{"field":"s","type":"nominal","legend":null,
   "scale":{"domain":["a","b","c","d","e","f","g","h","i","j"],"range":["#98c9ee","#b5c6d6","#a2cdef","#b4cbe0","#bccad8","#9ecaec","#8cc1ea","#afc7de","#a5cbea","#b6c8da"]}}
 }},
{"data":{"name":"avg"},
 "mark":{"type":"line","strokeWidth":2.6,"color":"#4a79a3","clip":true},
 "encoding":{"x":{"field":"d","type":"quantitative"},"y":{"field":"v","type":"quantitative"}}},
{"mark":{"type":"rule","color":"#333333","strokeWidth":1.8,"strokeDash":[6,5]},
 "encoding":{"x":{"datum":0},"y":{"datum":231},"y2":{"datum":100}}},
{"mark":{"type":"text","text":"The market falls -35.7%","font":"Lato","fontSize":13.5,"color":"#4d4d4d","align":"center","baseline":"alphabetic"},
 "encoding":{"x":{"datum":-241.7},"y":{"datum":188.8}}},
{"mark":{"type":"text","text":"during the \"average\" bear market","font":"Lato","fontSize":13.5,"color":"#4d4d4d","align":"center","baseline":"alphabetic"},
 "encoding":{"x":{"datum":-241.7},"y":{"datum":183.8}}},
{"mark":{"type":"text","text":"The average recovery","font":"Lato","fontSize":13.5,"color":"#4d4d4d","align":"center","baseline":"alphabetic"},
 "encoding":{"x":{"datum":503.4},"y":{"datum":188.8}}},
{"mark":{"type":"text","text":"takes 2 years, 3 months","font":"Lato","fontSize":13.5,"color":"#4d4d4d","align":"center","baseline":"alphabetic"},
 "encoding":{"x":{"datum":503.4},"y":{"datum":183.8}}},
{"mark":{"type":"text","text":"Market and Economic Chartbook | May 24, 2022","font":"Lato","fontSize":18.2,"color":"#333333","align":"left","baseline":"alphabetic"},
 "encoding":{"x":{"datum":-478.8},"y":{"datum":268.8}}},
{"mark":{"type":"rule","color":"#cccccc","strokeWidth":1.5},
 "encoding":{"x":{"datum":-475.7},"x2":{"datum":603.7},"y":{"datum":265.7}}},
{"mark":{"type":"text","text":"Bear Markets and Recoveries","font":"Open Sans","fontWeight":300,"fontSize":42,"color":"#333333","align":"left","baseline":"alphabetic"},
 "encoding":{"x":{"datum":-478.8},"y":{"datum":252.6}}},
{"mark":{"type":"text","text":"S&P 500 total returns since World War II. Bear markets are peak-to-trough","font":"Lato","fontStyle":"italic","fontSize":22.1,"color":"#222222","align":"left","baseline":"alphabetic"},
 "encoding":{"x":{"datum":-481},"y":{"datum":242.8}}},
{"mark":{"type":"text","text":"declines of 20% or worse. The bold line is an average across bear markets.","font":"Lato","fontStyle":"italic","fontSize":22.1,"color":"#222222","align":"left","baseline":"alphabetic"},
 "encoding":{"x":{"datum":-481},"y":{"datum":235.9}}},
{"mark":{"type":"rect","color":"#44546a"},
 "encoding":{"x":{"datum":-625},"x2":{"datum":-554.8},"y":{"datum":261.4},"y2":{"datum":199.84}}},
{"mark":{"type":"text","text":"U.S. Stock Market","font":"Open Sans","fontSize":20,"color":"#f2f2f2","align":"center","baseline":"middle","angle":270},
 "encoding":{"x":{"datum":-588.4},"y":{"datum":230.15}}},
{"mark":{"type":"rect","color":"#41527f"},
 "encoding":{"x":{"datum":736.3},"x2":{"datum":769.1},"y":{"datum":271.4},"y2":{"datum":265.6}}},
{"mark":{"type":"rect","color":"#9dbbe3"},
 "encoding":{"x":{"datum":736.3},"x2":{"datum":751.9},"y":{"datum":271.4},"y2":{"datum":268.65}}},
{"mark":{"type":"rule","color":"#ffffff","strokeWidth":1.2},
 "encoding":{"x":{"datum":752.7},"y":{"datum":271.4},"y2":{"datum":265.6}}},
{"mark":{"type":"rule","color":"#ffffff","strokeWidth":1.2},
 "encoding":{"x":{"datum":736.3},"x2":{"datum":769.1},"y":{"datum":268.5}}},
{"mark":{"type":"text","text":"FINANCIAL SYNERGIES®","font":"Lato","fontWeight":"bold","fontSize":11,"color":"#3c4b7a","align":"left","baseline":"alphabetic"},
 "encoding":{"x":{"datum":780},"y":{"datum":268.0}}},
{"mark":{"type":"text","text":"WEALTH ADVISORS","font":"DejaVu Sans","fontSize":9,"color":"#8a8f99","align":"left","baseline":"alphabetic"},
 "encoding":{"x":{"datum":780},"y":{"datum":265.5}}},
{"mark":{"type":"text","text":"Source: Clearnomics,","font":"Lato","fontSize":13,"color":"#333333","align":"right","baseline":"alphabetic"},
 "encoding":{"x":{"datum":1051},"y":{"datum":56.5}}},
{"mark":{"type":"text","text":"Standard & Poor's","font":"Lato","fontSize":13,"color":"#333333","align":"right","baseline":"alphabetic"},
 "encoding":{"x":{"datum":1051},"y":{"datum":52.6}}},
{"mark":{"type":"text","text":"© 2022 Clearnomics, Inc.","font":"Lato","fontSize":9.5,"color":"#a0a0a0","align":"right","baseline":"alphabetic"},
 "encoding":{"x":{"datum":1051},"y":{"datum":49.3}}}
]
}
